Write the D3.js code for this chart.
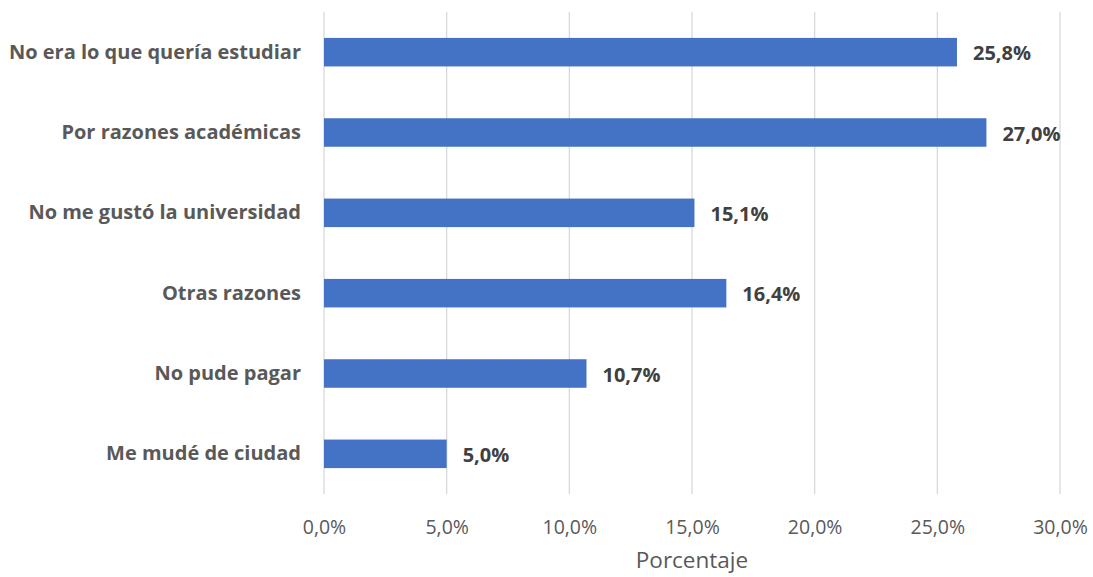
<!DOCTYPE html>
<html><head><meta charset="utf-8">
<script src="https://cdn.jsdelivr.net/npm/d3@7"></script>
<style>body{margin:0;background:#fff}</style>
</head><body><svg id="c" width="1093" height="577"></svg>
<script>
const categories = ["No era lo que quería estudiar","Por razones académicas","No me gustó la universidad","Otras razones","No pude pagar","Me mudé de ciudad"];
const values = [25.8, 27.0, 15.1, 16.4, 10.7, 5.0];
const xTicks = [0,5,10,15,20,25,30];
const xTitle = "Porcentaje";

const svg = d3.select("#c");
const font = "'Open Sans', sans-serif";
const x = d3.scaleLinear().domain([0,30]).range([324,1060]);
const y = d3.scaleBand().domain(categories).range([12,494]).paddingInner(0.645).paddingOuter(0.3225);
const fmt = v => v.toFixed(1).replace(".", ",") + "%";

const xAxis = svg.append("g").attr("transform","translate(0,494)")
  .call(d3.axisBottom(x).tickValues(xTicks).tickSize(0).tickPadding(0).tickFormat(fmt));
xAxis.select(".domain").remove();
xAxis.selectAll("text").attr("y",33).attr("dy","0.35em").attr("fill","#595959")
  .style("font-family",font).style("font-size","19.5px");

svg.append("g").selectAll("line").data(xTicks).join("line")
  .attr("x1",d=>x(d)).attr("x2",d=>x(d)).attr("y1",12).attr("y2",494)
  .attr("stroke","#d9d9d9").attr("stroke-width",1.3);

svg.append("g").selectAll("rect").data(values).join("rect")
  .attr("x",x(0)).attr("y",(d,i)=>y(categories[i])).attr("width",d=>x(d)-x(0))
  .attr("height",y.bandwidth()).attr("fill","#4472C4");

svg.append("g").selectAll("text").data(values).join("text")
  .attr("x",d=>x(d)+16).attr("y",(d,i)=>y(categories[i])+y.bandwidth()/2+1).attr("dy","0.35em")
  .attr("fill","#404040").style("font-family",font).style("font-weight","bold").style("font-size","20px")
  .text(fmt);

const yAxis = svg.append("g").attr("transform","translate(301,0)")
  .call(d3.axisLeft(y).tickSize(0).tickPadding(0));
yAxis.select(".domain").remove();
yAxis.selectAll("text").attr("fill","#595959").style("font-family",font).style("font-weight","bold").style("font-size","20px");

svg.append("text").attr("x",692).attr("y",560).attr("dy","0.35em").attr("text-anchor","middle")
  .attr("fill","#595959").style("font-family",font).style("font-size","22.5px").text(xTitle);
</script></body></html>
